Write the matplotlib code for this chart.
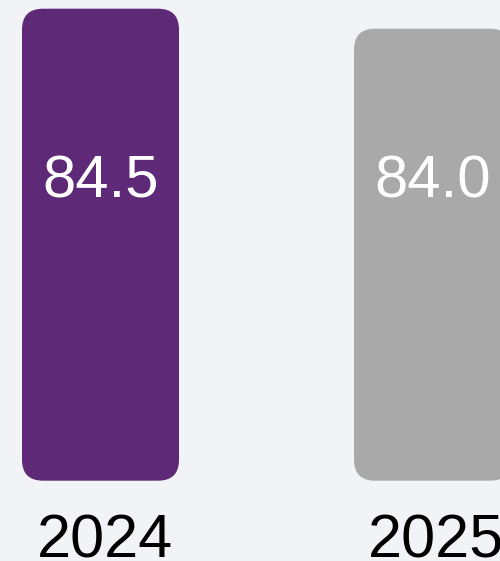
import matplotlib
matplotlib.use('Agg')
import matplotlib.pyplot as plt
from matplotlib.patches import FancyBboxPatch
import matplotlib.transforms as mtransforms

# Dados do grafico
years = ['2024', '2025']
values = [84.5, 84.0]
colors = ['#5E2977', '#A9A9A9']

plt.rcParams['font.family'] = ['Liberation Sans', 'DejaVu Sans']

fig = plt.figure(figsize=(5.0, 5.61), dpi=100)
fig.patch.set_facecolor('#F2F3F7')
ax = fig.add_axes([0, 0, 1, 1])
ax.set_facecolor('#F2F3F7')

# escala: 332 px por unidade em x, 40 px por unidade em y
base = 72.7
ax.set_xlim(-100.5 / 332, (500 - 100.5) / 332)
ax.set_ylim(base - 80.3 / 40, base + (561 - 80.3) / 40)
width = 157 / 332
radius = 21 / 332

for i, (yr, v, c) in enumerate(zip(years, values, colors)):
    bar = FancyBboxPatch((i - width / 2, base), width, v - base,
                         boxstyle=f'round,pad=0,rounding_size={radius}',
                         mutation_aspect=332 / 40, facecolor=c, edgecolor='none')
    ax.add_patch(bar)
    trans = mtransforms.blended_transform_factory(ax.transData, ax.transAxes)
    ax.text(i, 364 / 561, f'{v:.1f}', transform=trans, ha='center', va='baseline',
            color='white', fontsize=43)
    ax.text(i + 0.012, 4 / 561, yr, transform=trans, ha='center', va='baseline',
            color='black', fontsize=44)

ax.axis('off')
fig.savefig('out.png', dpi=100, facecolor=fig.get_facecolor())
